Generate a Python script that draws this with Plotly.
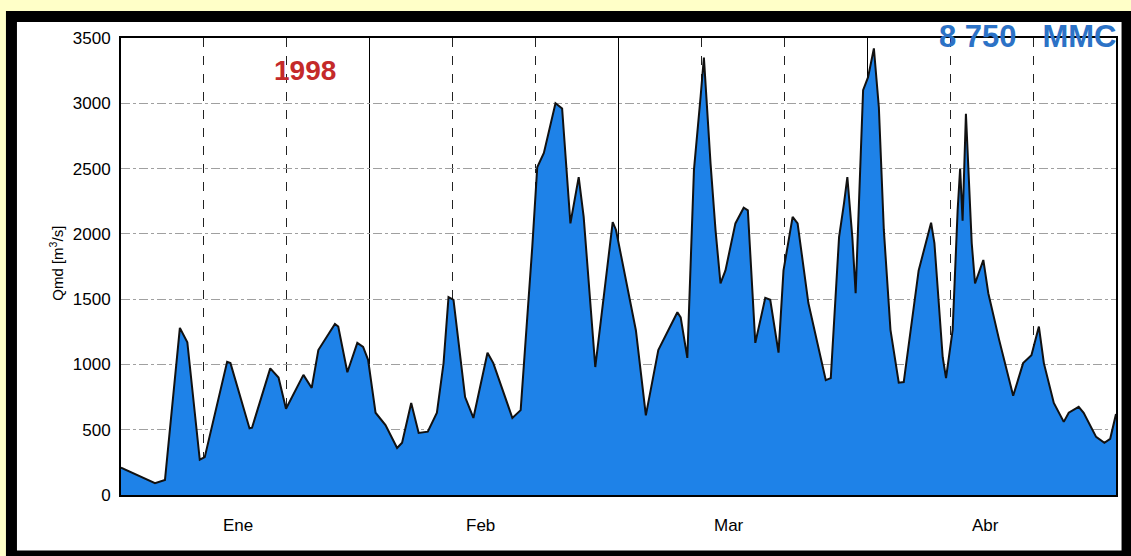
import plotly.graph_objects as go

# Day of year (0 = 1 Jan 1998) and mean daily flow Qmd [m3/s]
days = [0, 2.0, 4.1, 5.3, 5.9, 7.1, 8.0, 9.5, 10.1, 12.8, 13.2, 15.5, 15.8, 18.0, 19.0, 19.9,
        22.0, 23.0, 23.8, 25.8, 26.2, 27.3, 28.5, 29.2, 29.8, 30.7, 31.9, 33.3, 33.9, 35.0,
        35.9, 37.0, 38.1, 38.9, 39.5, 40.1, 41.5, 42.5, 44.2, 44.9, 47.2, 48.2, 49.6, 50.2,
        51.0, 52.4, 53.2, 54.2, 55.2, 55.8, 57.2, 59.3, 59.7, 62.1, 63.3, 64.8, 67.1, 67.5,
        68.3, 69.1, 69.9, 70.3, 71.1, 71.7, 72.3, 72.9, 74.1, 75.1, 75.6, 76.3, 76.5, 77.7,
        78.3, 79.3, 79.9, 81.0, 81.6, 82.9, 85.0, 85.6, 86.6, 87.2, 87.6, 88.2, 88.6, 89.5,
        90.1, 90.8, 91.4, 92.0, 92.8, 93.8, 94.4, 96.2, 97.7, 98.1, 99.1, 99.5, 100.3, 100.9,
        101.2, 101.5, 101.9, 102.6, 103.0, 104.0, 104.6, 105.9, 107.6, 108.8, 109.8, 110.7,
        111.3, 112.5, 113.7, 114.3, 115.5, 116.1, 117.6, 118.6, 119.3, 120.0]
flow = [210, 150, 90, 115, 500, 1280, 1170, 270, 290, 1020, 1010, 510, 515, 970, 900, 660,
        920, 820, 1110, 1310, 1290, 940, 1165, 1135, 1035, 630, 535, 360, 400, 705,
        475, 485, 630, 1010, 1515, 1495, 750, 590, 1090, 1010, 590, 650, 1900, 2510,
        2620, 3000, 2960, 2080, 2435, 2130, 980, 2090, 2030, 1260, 610, 1110, 1400, 1360,
        1050, 2490, 3050, 3350, 2540, 2030, 1620, 1720, 2080, 2200, 2180, 1360, 1165, 1510,
        1495, 1090, 1720, 2130, 2080, 1470, 880, 895, 1975, 2235, 2435, 1975, 1545, 3100,
        3200, 3420, 2970, 2030, 1265, 860, 865, 1720, 2085, 1930, 1055, 895, 1265, 2180,
        2500, 2100, 2920, 1930, 1620, 1800, 1545, 1190, 760, 1010, 1070, 1290,
        1010, 705, 560, 630, 675, 630, 445, 400, 430, 620]

month_labels = ["Ene", "Feb", "Mar", "Abr"]
month_label_pos = [14.1, 43.4, 73.3, 104.3]
y_ticks = [0, 500, 1000, 1500, 2000, 2500, 3000, 3500]

FONT = "Liberation Sans, Arial, sans-serif"

fig = go.Figure()
fig.add_trace(go.Scatter(
    x=days, y=flow, mode="lines",
    line=dict(color="#111111", width=2),
    fill="tozeroy", fillcolor="#1E82E8",
    hoverinfo="x+y", showlegend=False,
))

# outer black frame with white inside
fig.add_shape(type="rect", xref="paper", yref="paper",
              x0=-0.1101, x1=1.0111, y0=-0.1335, y1=1.047,
              line=dict(color="black", width=11), fillcolor="white", layer="below")

fig.update_xaxes(
    range=[0, 120], tickmode="linear", tick0=0, dtick=30,
    showticklabels=False, ticks="",
    showgrid=True, gridcolor="black", gridwidth=1,
    minor=dict(tick0=0, dtick=10, showgrid=True, gridcolor="#222222",
               griddash="dash", gridwidth=1),
    showline=True, linecolor="black", linewidth=2, mirror=True, zeroline=False,
)
fig.update_yaxes(
    range=[0, 3500], tickvals=y_ticks, ticktext=[str(v) for v in y_ticks],
    tickfont=dict(family=FONT, size=17, color="black"),
    ticklabelstandoff=5, ticks="",
    showgrid=True, gridcolor="#a0a0a0", gridwidth=1, griddash="dashdot",
    showline=True, linecolor="black", linewidth=2, mirror=True, zeroline=False,
)

for lab, pos in zip(month_labels, month_label_pos):
    fig.add_annotation(x=pos, y=-0.066, xref="x", yref="paper", text=lab,
                       showarrow=False, yanchor="middle",
                       font=dict(family=FONT, size=17, color="black"))

fig.add_annotation(x=-0.076, y=0.508, xref="paper", yref="paper",
                   text="Qmd [m<sup>3</sup>/s]", textangle=-90, showarrow=False,
                   font=dict(family=FONT, size=15, color="black"))

fig.add_annotation(x=22.2, y=0.928, xref="x", yref="paper", text="<b>1998</b>",
                   showarrow=False, yanchor="middle",
                   font=dict(family=FONT, size=28, color="#C42A2A"))
fig.add_annotation(x=1.002, y=1.004, xref="paper", yref="paper",
                   text="<b>8&nbsp;750&nbsp;&nbsp;&nbsp;MMC</b>",
                   showarrow=False, xanchor="right", yanchor="middle",
                   font=dict(family=FONT, size=31, color="#2C72C6"))

fig.update_layout(
    width=1131, height=556,
    margin=dict(l=121, r=15, t=38, b=61),
    paper_bgcolor="#FFFFC8", plot_bgcolor="white",
    showlegend=False,
)

fig.write_html("out.html", config={"displayModeBar": False},
               post_script="document.body.style.margin='0';document.body.style.overflow='hidden';")
